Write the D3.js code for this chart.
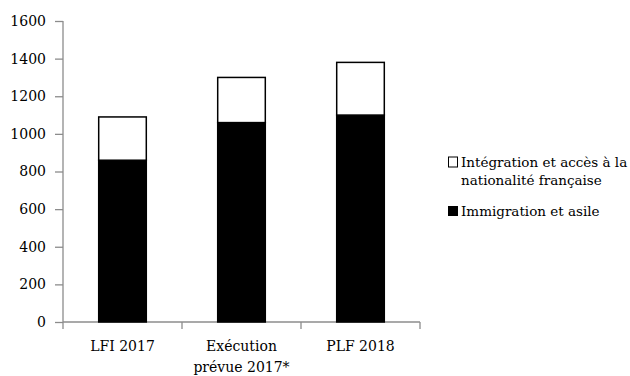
<!DOCTYPE html>
<html>
<head>
<meta charset="utf-8">
<script src="https://cdn.jsdelivr.net/npm/d3@7"></script>
<style>
  html, body { margin: 0; padding: 0; background: #fff; }
  svg text { font-family: "DejaVu Serif", "Liberation Serif", serif; fill: #000; }
</style>
</head>
<body>
<svg id="chart" width="630" height="376"></svg>
<script>
// Budget par action (M€)
const categories = [["LFI 2017"], ["Exécution", "prévue 2017*"], ["PLF 2018"]];
const immigration = [860, 1060, 1100];
const integration = [230, 240, 280];
const yTicks = [0, 200, 400, 600, 800, 1000, 1200, 1400, 1600];
const seriesNames = ["Intégration et accès à la nationalité française", "Immigration et asile"];

const svg = d3.select("#chart");
const margin = { left: 63, right: 210, top: 21, bottom: 54 };
const W = 630, H = 376;

const x = d3.scaleBand()
  .domain(d3.range(categories.length))
  .range([margin.left, W - margin.right])
  .paddingInner(0.6)
  .paddingOuter(0.3);

const y = d3.scaleLinear().domain([0, 1600]).range([H - margin.bottom, margin.top]);

const axisColor = "#8c8c8c";

// Y axis
const yAxis = svg.append("g")
  .attr("transform", `translate(${margin.left},0)`)
  .call(d3.axisLeft(y).tickValues(yTicks).tickSize(8).tickPadding(9).tickFormat(d3.format("d")));
yAxis.selectAll("path, line").attr("stroke", axisColor).attr("stroke-width", 1.3);
yAxis.select(".domain").attr("d", `M-0,${y(1600)}V${y(0)}`);
yAxis.selectAll("text").attr("font-size", 14).attr("font-family", "DejaVu Serif");

// X axis with ticks between categories
const x0 = margin.left, x1 = W - margin.right;
const xa = svg.append("g");
xa.append("line").attr("x1", x0).attr("x2", x1).attr("y1", y(0)).attr("y2", y(0))
  .attr("stroke", axisColor).attr("stroke-width", 1.3);
xa.selectAll("line.tk").data(d3.range(categories.length + 1)).join("line")
  .attr("class", "tk")
  .attr("x1", i => x0 + i * (x1 - x0) / categories.length)
  .attr("x2", i => x0 + i * (x1 - x0) / categories.length)
  .attr("y1", y(0)).attr("y2", y(0) + 7)
  .attr("stroke", axisColor).attr("stroke-width", 1.3);

// Category labels
categories.forEach((lines, i) => {
  const cx = x(i) + x.bandwidth() / 2;
  const t = svg.append("text").attr("text-anchor", "middle").attr("font-size", 14);
  lines.forEach((ln, j) => {
    t.append("tspan").attr("x", cx).attr("y", y(0) + 29 + j * 21).text(ln);
  });
});

// Stacked bars
const stackData = categories.map((c, i) => ({ i, immigration: immigration[i], integration: integration[i] }));
const stacked = d3.stack().keys(["immigration", "integration"])(stackData);
const fills = { immigration: "#000", integration: "#fff" };

svg.append("g").selectAll("g").data(stacked).join("g")
  .selectAll("rect").data(d => d.map(v => ({ key: d.key, v }))).join("rect")
  .attr("x", d => x(d.v.data.i))
  .attr("width", x.bandwidth())
  .attr("y", d => y(d.v[1]))
  .attr("height", d => y(d.v[0]) - y(d.v[1]))
  .attr("fill", d => fills[d.key])
  .attr("stroke", "#000")
  .attr("stroke-width", 1.5);

// Legend
const lg = svg.append("g").attr("transform", "translate(448,0)");
lg.append("rect").attr("x", 0.5).attr("y", 157).attr("width", 9).attr("height", 10)
  .attr("fill", "#fff").attr("stroke", "#000").attr("stroke-width", 1);
const lt = lg.append("text").attr("font-size", 13.5);
lt.append("tspan").attr("x", 13).attr("y", 167).text("Intégration et accès à la");
lt.append("tspan").attr("x", 13).attr("y", 185).text("nationalité française");
lg.append("rect").attr("x", 0).attr("y", 206).attr("width", 10).attr("height", 10).attr("fill", "#000");
lg.append("text").attr("font-size", 13.5).attr("x", 13).attr("y", 216).text(seriesNames[1]);
</script>
</body>
</html>
